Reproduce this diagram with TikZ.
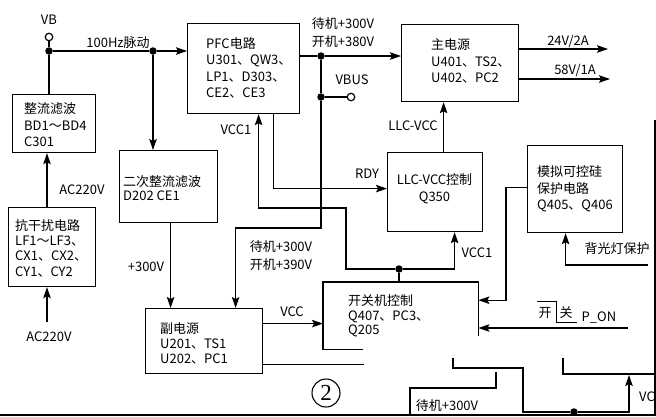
\documentclass[tikz,border=0pt]{standalone}
\usepackage{fontspec}
\setmainfont{Noto Sans CJK SC}
\newfontfamily\numserif{Liberation Serif}
\usetikzlibrary{arrows.meta,calc}
\begin{document}
\begin{tikzpicture}[x=1pt,y=-1pt,
  box/.style={draw, line width=1.2pt, inner sep=0, anchor=north west},
  ghost/.style={inner sep=0, anchor=north west},
  txt/.style={inner sep=0, align=left, anchor=west, font=\fontsize{13}{16.5}\selectfont},
  lbl/.style={inner sep=0, font=\fontsize{13}{15}\selectfont},
  wire/.style={line width=1.2pt},
  arr/.style={wire, -{Stealth[length=11pt,width=7.5pt,inset=2pt]}},
  dot/.style={circle, fill, inner sep=0, minimum size=7.5pt},
  odot/.style={circle, draw, fill=white, line width=1.2pt, inner sep=0, minimum size=7.5pt}]
\useasboundingbox (0,0) rectangle (656,416);

% boxes
\node[box, minimum width=83pt, minimum height=58pt] (zl) at (12,94) {};
\node[box, minimum width=87pt, minimum height=79pt] (kg) at (8,207) {};
\node[box, minimum width=98pt, minimum height=72pt] (ez) at (119,150) {};
\node[box, minimum width=112pt, minimum height=90pt] (pfc) at (187,23) {};
\node[box, minimum width=117pt, minimum height=77pt] (mp) at (401,24) {};
\node[box, minimum width=95pt, minimum height=79pt] (llc) at (387,152) {};
\node[box, minimum width=95pt, minimum height=87pt] (mn) at (527,145) {};
\node[box, minimum width=117pt, minimum height=65pt] (fd) at (145,308) {};
\node[ghost, minimum width=155pt, minimum height=67pt] (sw) at (323,282) {};
\draw[wire] ([xshift=40pt]sw.south west) -- (sw.south west) -- (sw.north west) -- (sw.north east) -- ([yshift=13pt]sw.south east);

% box texts
\node[txt] (zlt) at (24,125) {整流滤波\\BD1～BD4\\C301};
\node[txt, font=\fontsize{13}{15.3}\selectfont] (kgt) at (15,248) {抗干扰电路\\LF1～LF3、\\CX1、CX2、\\CY1、CY2};
\node[txt, font=\fontsize{13}{13.5}\selectfont] (ezt) at (123,188) {二次整流滤波\\D202 CE1};
\node[txt] (pfct) at (206,68) {PFC电路\\U301、QW3、\\LP1、D303、\\CE2、CE3};
\node[txt] (mpt) at (431,61) {主电源\\U401、TS2、\\U402、PC2};
\node[txt, anchor=center, align=center] (llct) at (434.5,188.5) {LLC-VCC控制\\Q350};
\node[txt] (mnt) at (537,189) {模拟可控硅\\保护电路\\Q405、Q406};
\node[txt, font=\fontsize{13}{15}\selectfont] (fdt) at (160,343) {副电源\\U201、TS1\\U202、PC1};
\node[txt, font=\fontsize{13}{14.5}\selectfont] (swt) at (348,316) {开关机控制\\Q407、PC3、\\Q205};

% VB and 100Hz
\node[odot] (vbo) at (49,37) {};
\node[dot] (vbd) at (49,51) {};
\node[lbl] (vbl) at (49,20) {VB};
\draw[wire] (vbo) -- (vbd);
\draw[wire] (zl.north -| vbd) -- (vbd);
\node[dot] (d2) at (153,51) {};
\draw[wire] (vbd) -- (d2);
\draw[arr] (d2) -- (pfc.west |- d2);
\node[lbl] (hz) at (118,43) {100Hz脉动};
\draw[arr] (d2) -- (d2 |- ez.north);

% AC220V
\coordinate (k1) at ([xshift=39pt]kg.north west);
\draw[arr] (k1) -- (k1 |- zl.south);
\node[lbl] (ac1) at (82,190) {AC220V};
\coordinate (ac2) at (47,322);
\draw[arr] (ac2) -- (ac2 |- kg.south);
\node[lbl] (ac2l) at (49,337) {AC220V};

% PFC -> main power
\node[dot] (d3) at (321,56) {};
\draw[wire] (pfc.east |- d3) -- (d3);
\draw[arr] (d3) -- (mp.west |- d3);
\node[lbl] (s1) at (343,24) {待机+300V};
\node[lbl] (s2) at (343,42) {开机+380V};
\node[dot] (d4) at (321,97) {};
\node[odot] (vb2) at (351,97) {};
\draw[wire] (d3) -- (d4) -- (vb2);
\node[lbl] (vbus) at (352,80) {VBUS};
\draw[arr] (d4) -- (321,228) -| ([xshift=31.5pt]fd.north);
\node[lbl] (s3) at (281,247) {待机+300V};
\node[lbl] (s4) at (281,265) {开机+390V};

% secondary rectifier -> aux power
\coordinate (e1) at ([xshift=2pt]ez.south);
\draw[arr] (e1) -- (e1 |- fd.north);
\node[lbl] (p300) at (146,267) {+300V};

% VCC1 net
\node[dot] (d5) at (399,269) {};
\draw[wire] (d5) -- (d5 |- sw.north);
\draw[arr] (d5) -| ([xshift=19.5pt]llc.south);
\draw[arr] (d5) -- (346,269) -- (346,208) -| ([xshift=15pt]pfc.south);
\node[lbl] (v1) at (236,130) {VCC1};
\node[lbl] (v2) at (477,253) {VCC1};

% RDY
\draw[arr] ([xshift=30pt]pfc.south) |- ([yshift=3.5pt]llc.west);
\node[lbl] (rdy) at (367,174) {RDY};

% LLC-VCC
\coordinate (l1) at ([xshift=8.5pt]llc.north);
\draw[arr] (l1) -- (l1 |- mp.south);
\node[lbl] (llcv) at (413,126) {LLC-VCC};

% outputs
\coordinate (o1) at (608,49);
\coordinate (o2) at (610,79);
\draw[arr] (mp.east |- o1) -- (o1);
\draw[arr] (mp.east |- o2) -- (o2);
\node[lbl] (o1l) at (568,41) {24V/2A};
\node[lbl] (o2l) at (575,70) {58V/1A};

% protection -> switch control
\draw[arr] ([yshift=1.5pt]mn.west) -- ++(-21,0) |- ([yshift=15.5pt]sw.east);
\coordinate (bg) at (648,265);
\draw[arr] (bg) -| ([xshift=-9.5pt]mn.south);
\node[lbl] (bgl) at (617,249) {背光灯保护};

% P_ON
\coordinate (pon) at (628,328);
\draw[arr] (pon) -- (sw.east |- pon);
\draw[line width=0.9pt] (537,301) -- (556,301) -- (556,322) -- (577,322);
\node[lbl] (kai) at (545,313) {开};
\node[lbl] (guan) at (566,313) {关};
\node[lbl] (ponl) at (599,318) {P\_ON};

% VCC from aux power
\coordinate (fv) at ([yshift=17.5pt]fd.east);
\draw[arr] (fv) -- (fv -| sw.west);
\node[lbl] (vcc) at (292,312) {VCC};
\draw[wire] ([yshift=-23.5pt]fd.east) -- ++(101,0);

% bottom (cut-off part)
\node[dot] (d6) at (574,412) {};
\draw[wire] (453,358) -- (453,368) -- (523,368) -- (523,412) -- (d6);
\draw[arr] (d6) -| (629,375);
\draw[wire] (563,358) -- (563,374) -- (656,374);
\draw[wire] (496,372) -- (496,388) -- (410,388) -- (410,416);
\node[lbl, anchor=west] (vc) at (639,397) {VC};
\node[lbl] (s5) at (447,406) {待机+300V};
\node[circle, draw, line width=1.1pt, minimum size=28pt, inner sep=0, font=\numserif\fontsize{23}{23}\selectfont] (two) at (326,393) {2};

% border lines
\draw[line width=2pt] (0,415) -- (656,415);
\draw[wire] (655,120) -- (655,416);
\end{tikzpicture}
\end{document}
